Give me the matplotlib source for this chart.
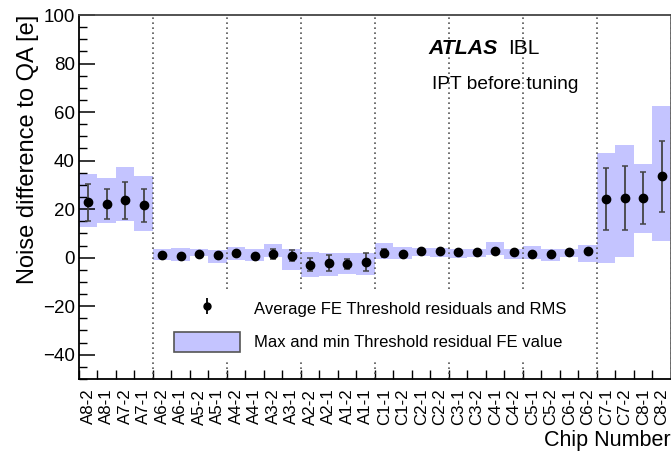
import numpy as np
import matplotlib
matplotlib.use('Agg')
import matplotlib.pyplot as plt
from matplotlib.ticker import MultipleLocator, FixedLocator

# 芯片名称（从左到右）
chips = ['A8-2', 'A8-1', 'A7-2', 'A7-1', 'A6-2', 'A6-1', 'A5-2', 'A5-1',
         'A4-2', 'A4-1', 'A3-2', 'A3-1', 'A2-2', 'A2-1', 'A1-2', 'A1-1',
         'C1-1', 'C1-2', 'C2-1', 'C2-2', 'C3-1', 'C3-2', 'C4-1', 'C4-2',
         'C5-1', 'C5-2', 'C6-1', 'C6-2', 'C7-1', 'C7-2', 'C8-1', 'C8-2']

# 平均阈值残差 & RMS
avg = [22.8, 22.1, 23.6, 21.6, 1.2, 0.7, 1.6, 1.2,
       1.9, 0.8, 1.6, 0.8, -2.9, -2.2, -2.6, -1.8,
       1.9, 1.5, 2.6, 2.6, 2.2, 2.2, 2.6, 2.2,
       1.5, 1.5, 2.2, 2.6, 24.2, 24.6, 24.6, 33.5]
rms = [7.6, 6.1, 7.5, 6.7, 0.8, 0.7, 0.6, 0.8,
       0.9, 0.8, 2.0, 2.3, 2.7, 3.3, 2.1, 3.6,
       1.8, 1.0, 0.8, 0.8, 0.8, 0.8, 0.8, 0.8,
       1.0, 1.0, 0.8, 1.0, 12.6, 13.1, 10.8, 14.5]

# FE 最大/最小残差
fe_max = [34.6, 32.9, 37.4, 33.8, 3.6, 4.0, 3.6, 3.3,
          4.4, 3.6, 5.6, 3.7, 2.2, 2.0, 2.0, 2.0,
          6.0, 4.4, 4.0, 4.0, 3.6, 3.6, 6.5, 3.6,
          4.9, 3.6, 3.6, 5.1, 43.2, 46.3, 38.4, 62.7]
fe_min = [12.7, 14.3, 15.0, 11.1, -1.1, -1.2, 0.5, -2.2,
          -1.1, -1.5, 0.3, -5.2, -8.1, -7.7, -6.6, -7.3,
          -0.5, -0.5, 0.8, 0.3, -0.1, 0.3, 1.2, -0.4,
          -0.5, -1.5, 0.3, -1.9, -2.2, 0.1, 10.2, 7.0]

plt.rcParams['font.family'] = ['Liberation Sans', 'DejaVu Sans']

n = len(chips)
x = np.arange(n) + 0.5
avg = np.array(avg); rms = np.array(rms)
fe_max = np.array(fe_max); fe_min = np.array(fe_min)

fig = plt.figure(figsize=(6.71, 4.55), dpi=100)
ax = fig.add_axes([0.1177, 0.167, 0.8823, 0.800])

band_c = '#c4c4ff'
ax.bar(x, fe_max - fe_min, bottom=fe_min, width=1.0, color=band_c,
       linewidth=0, zorder=1)

# 每4个芯片一条点线
for b in range(4, n + 1, 4):
    ax.axvline(b, color='#555555', ls=(0, (1, 2)), lw=1.2, zorder=2)

ax.errorbar(x, avg, yerr=rms, fmt='o', color='black', ms=6,
            ecolor='#444444', elinewidth=1.3, capsize=2, capthick=1.1,
            zorder=5)

ax.set_xlim(0, n)
ax.set_ylim(-50, 100)

# 刻度
ax.xaxis.set_major_locator(FixedLocator(x))
ax.set_xticklabels(chips, rotation=90, fontsize=12.2)
ax.xaxis.set_minor_locator(FixedLocator(np.arange(0, n + 1)))
ax.tick_params(axis='x', which='major', length=0, pad=7)
ax.tick_params(axis='x', which='minor', direction='in', length=6.5,
               width=1.0, top=False)
ax.yaxis.set_major_locator(MultipleLocator(20))
ax.yaxis.set_minor_locator(MultipleLocator(5))
ax.tick_params(axis='y', which='major', direction='in', length=11.5,
               width=1.1, labelsize=13.5, pad=3, right=False)
ax.tick_params(axis='y', which='minor', direction='in', length=5.8,
               width=1.0, right=False)
for s in ax.spines.values():
    s.set_linewidth(1.3)
ax.spines['top'].set_color('#444444')
ax.spines['right'].set_color('#666666')

ax.set_ylabel('Noise difference to QA [e]', fontsize=17, loc='top',
              labelpad=3)
ax.set_xlabel('Chip Number', fontsize=15.5, loc='right', labelpad=3)

ax.text(0.591, 0.909, 'ATLAS', transform=ax.transAxes, fontsize=15.3,
        fontweight='bold', fontstyle='italic', va='center')
ax.text(0.725, 0.909, 'IBL', transform=ax.transAxes, fontsize=15,
        va='center')
ax.text(0.596, 0.808, 'IPT before tuning', transform=ax.transAxes,
        fontsize=13.8, va='center')

# 图例代理
h_err = ax.errorbar([], [], yerr=[], fmt='o', color='black', ms=5,
                    ecolor='black', elinewidth=1.3, capsize=0)
h_band = plt.Rectangle((0, 0), 1, 1, facecolor=band_c,
                       edgecolor='#555555', lw=1.2)
leg = ax.legend([h_err, h_band],
                ['Average FE Threshold residuals and RMS',
                 'Max and min Threshold residual FE value'],
                loc='upper left', bbox_to_anchor=(0.150, 0.240),
                borderaxespad=0, fontsize=12, frameon=True,
                facecolor='white', edgecolor='none', framealpha=1.0,
                fancybox=False, handlelength=3.95, handleheight=1.5,
                handletextpad=0.84, labelspacing=0.78, borderpad=0.4)
leg.set_zorder(4)

fig.savefig('out.png', dpi=100)
